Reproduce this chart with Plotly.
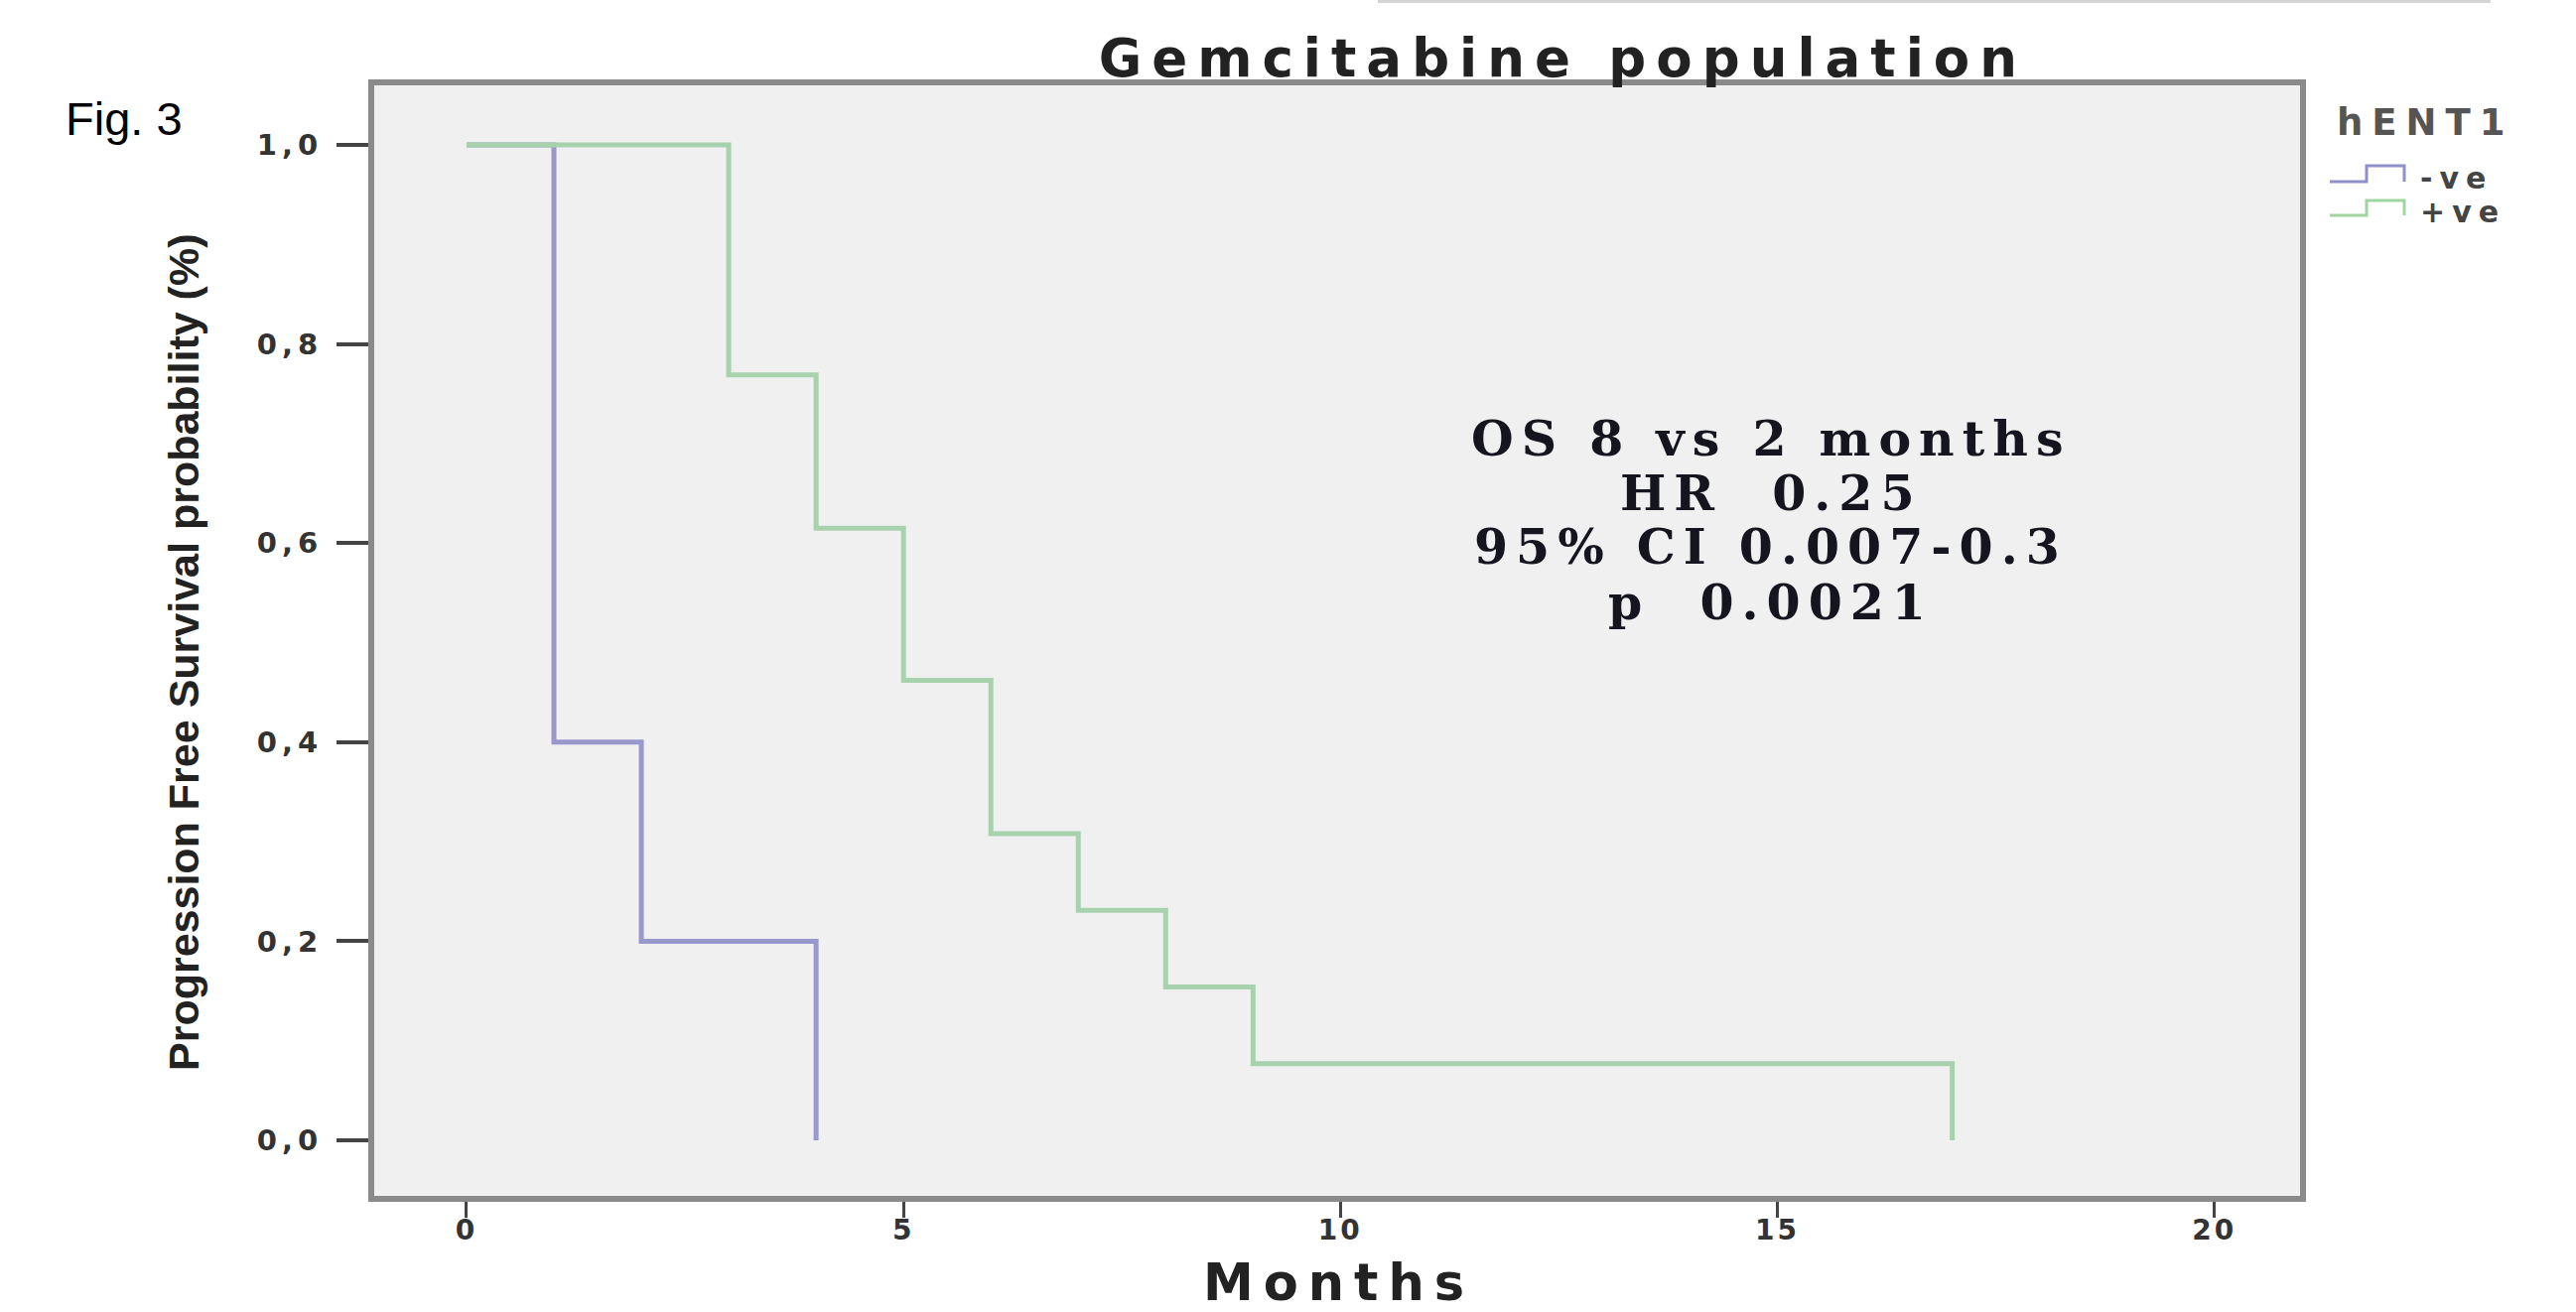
import plotly.graph_objects as go

# ---------------- data ----------------
group_labels = ["-ve", "+ve"]
neg_months = [0, 1, 2, 4]
neg_surv = [1.0, 0.4, 0.2, 0.0]
pos_months = [0, 3, 4, 5, 6, 7, 8, 9, 17]
pos_surv = [1.0, 0.769, 0.615, 0.462, 0.308, 0.231, 0.154, 0.077, 0.0]
x_ticks = [0, 5, 10, 15, 20]
x_ticktext = ["0", "5", "10", "15", "20"]
y_ticks = [0.0, 0.2, 0.4, 0.6, 0.8, 1.0]
y_ticktext = ["0,0", "0,2", "0,4", "0,6", "0,8", "1,0"]
stats_lines = ["OS 8 vs 2 months", "HR  0.25", "95% CI 0.007-0.3", "p  0.0021"]
title_text = "Gemcitabine population"
legend_title = "hENT1"

# ---------------- layout geometry ----------------
W, H = 2595, 1322
L, R, T, B = 377, 278, 86, 117
PW, PH = W - L - R, H - T - B


def px(x):
    return (x - L) / PW


def py(y):
    return (H - B - y) / PH


def spaced(txt, sp, bold=True):
    s = "<span style='letter-spacing:%dpx'>%s</span>" % (sp, txt)
    return "<b>" + s + "</b>" if bold else s


neg_color = "#9898cc"
pos_color = "#a8d2ae"
neg_leg = "#8f8fcc"
pos_leg = "#9fd69f"

fig = go.Figure()
fig.add_trace(go.Scatter(x=neg_months, y=neg_surv, mode="lines", line_shape="hv",
                         line=dict(color=neg_color, width=5), name=group_labels[0],
                         showlegend=False))
fig.add_trace(go.Scatter(x=pos_months, y=pos_surv, mode="lines", line_shape="hv",
                         line=dict(color=pos_color, width=5), name=group_labels[1],
                         showlegend=False))

annotations = []
# y axis title
annotations.append(dict(text="<b>Progression Free Survival probability (%)</b>", xref="paper", yref="paper",
                        x=px(185), y=py(657), xanchor="center", yanchor="middle", textangle=-90,
                        showarrow=False, font=dict(family="Liberation Sans", size=43, color="#222222")))
# x axis title
annotations.append(dict(text=spaced("Months", 10), xref="paper", yref="paper",
                        x=px(1348), y=py(1292), xanchor="center", yanchor="middle",
                        showarrow=False, font=dict(family="DejaVu Sans", size=51, color="#222222")))
# Fig. 3
annotations.append(dict(text="Fig. 3", xref="paper", yref="paper",
                        x=px(64), y=py(119), xanchor="left", yanchor="middle",
                        showarrow=False, font=dict(family="Liberation Sans", size=47, color="#000000")))
# stats text
stat_y = [442, 497, 551, 607]
for line, yy in zip(stats_lines, stat_y):
    annotations.append(dict(text=spaced(line, 8), xref="paper", yref="paper",
                            x=px(1784), y=py(yy), xanchor="center", yanchor="middle",
                            showarrow=False,
                            font=dict(family="DejaVu Serif", size=49, color="#15151f")))
# legend title and labels
annotations.append(dict(text=spaced(legend_title, 9), xref="paper", yref="paper",
                        x=px(2352), y=py(124), xanchor="left", yanchor="middle",
                        showarrow=False, font=dict(family="DejaVu Sans", size=37, color="#555555")))
leg_rows = [(183, 167, 179, neg_leg), (217, 202, 213, pos_leg)]
shapes = []
for lab, (low, high, ty, col) in zip(group_labels, leg_rows):
    annotations.append(dict(text=spaced(lab, 7), xref="paper", yref="paper",
                            x=px(2436), y=py(ty), xanchor="left", yanchor="middle",
                            showarrow=False, font=dict(family="DejaVu Sans", size=30, color="#444444")))
    path = "M {a},{l} L {b},{l} L {b},{h} L {c},{h} L {c},{l}".format(
        a=px(2347), b=px(2384), c=px(2422), l=py(low), h=py(high))
    shapes.append(dict(type="path", xref="paper", yref="paper", path=path,
                       line=dict(color=col, width=3)))

# faint line at top right
shapes.append(dict(type="line", xref="paper", yref="paper", x0=px(1388), x1=px(2509),
                   y0=py(1), y1=py(1), line=dict(color="#d4d4d4", width=4)))

fig.update_layout(
    width=W, height=H,
    margin=dict(l=L, r=R, t=T, b=B, autoexpand=False),
    paper_bgcolor="white",
    plot_bgcolor="#f0f0f0",
    title=dict(text=spaced(title_text, 10), x=px(1554), xanchor="center",
               y=1 - 58 / H, yanchor="middle",
               font=dict(family="DejaVu Sans", size=53, color="#222222")),
    xaxis=dict(range=[-1.056, 20.98], tickvals=x_ticks,
               ticktext=[spaced(t, 3) for t in x_ticktext],
               ticks="outside", ticklen=16,
               tickwidth=3, tickcolor="#444444", showline=True, mirror=True,
               linecolor="#8a8a8a", linewidth=6, showgrid=False, zeroline=False,
               tickfont=dict(family="DejaVu Sans", size=28, color="#333333"),
               ticklabelstandoff=-12),
    yaxis=dict(range=[-0.0558, 1.0598], tickvals=y_ticks,
               ticktext=[spaced(t, 5) for t in y_ticktext],
               ticks="outside", ticklen=32, tickwidth=4, tickcolor="#444444",
               showline=True, mirror=True, linecolor="#8a8a8a", linewidth=6,
               showgrid=False, zeroline=False,
               tickfont=dict(family="DejaVu Sans", size=29, color="#333333"),
               ticklabelstandoff=8),
    annotations=annotations,
    shapes=shapes,
    showlegend=False,
)

fig.write_html("out.html", config={"displayModeBar": False},
               post_script="document.body.style.margin='0px';")
